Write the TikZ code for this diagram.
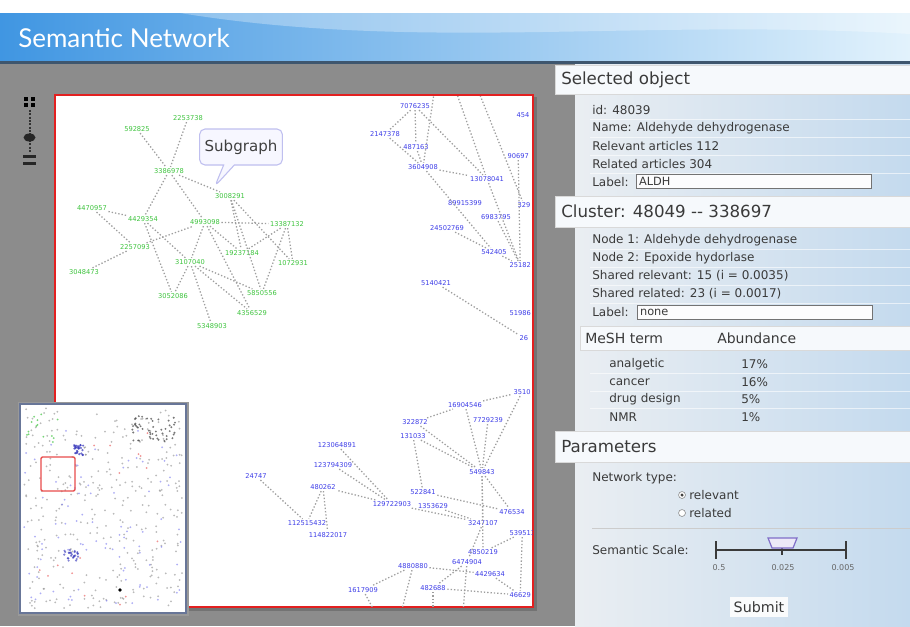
\documentclass[tikz,border=0pt]{standalone}
\usepackage{fontspec}
\setmainfont{DejaVu Sans}
\newfontfamily\titlefont{Lato}
\usetikzlibrary{shapes.callouts}
\definecolor{snblue}{RGB}{62,62,232}
\definecolor{sngreen}{RGB}{62,196,62}
\definecolor{snedge}{RGB}{158,158,158}
\definecolor{snred}{RGB}{226,32,32}
\definecolor{sngray}{RGB}{140,140,140}
\definecolor{hdrleft}{RGB}{64,150,226}
\definecolor{hdrmid}{RGB}{170,214,244}
\definecolor{hdrright}{RGB}{226,242,252}
\definecolor{hdrline}{RGB}{62,86,110}
\definecolor{panelleft}{RGB}{234,238,242}
\definecolor{panelright}{RGB}{196,218,238}
\definecolor{barfill}{RGB}{246,249,252}
\definecolor{txtgray}{RGB}{58,58,58}
\definecolor{mapframe}{RGB}{104,118,152}
\definecolor{thumb}{RGB}{128,110,200}
\tikzset{
  gnode/.style={text=sngreen, font=\fontsize{5}{5}\selectfont, inner sep=1pt},
  bnode/.style={text=snblue, font=\fontsize{5}{5}\selectfont, inner sep=1pt},
  netedge/.style={draw=snedge, line width=0.95pt, dash pattern=on 1pt off 1.5pt},
  secbar/.style={fill=barfill, draw=black!15, line width=0.4pt},
  sectext/.style={anchor=west, text=txtgray, inner sep=0pt, font=\fontsize{12.5}{13}\selectfont},
  ptext/.style={anchor=west, text=txtgray, inner sep=0pt, font=\fontsize{9}{10}\selectfont},
  fieldbox/.style={anchor=west, draw=black!55, fill=white!85!panelleft, line width=0.6pt,
    text width=172pt, align=left, minimum height=11pt, inner sep=2pt, text=txtgray,
    font=\fontsize{8.5}{9}\selectfont},
  tinytext/.style={text=black!60, inner sep=0pt, font=\fontsize{6}{6}\selectfont}
}
\begin{document}
\begin{tikzpicture}[x=0.75pt,y=-0.75pt]
  \useasboundingbox (0,0) rectangle (910,626);
  \fill[white] (0,0) rectangle (910,626);
  \shade[left color=hdrleft, middle color=hdrmid, right color=hdrright] (0,13) rectangle (910,61);
  \fill[white, opacity=.3] (180,13) .. controls (420,52) and (640,18) .. (910,34) -- (910,13) -- cycle;
  \fill[hdrline] (0,61) rectangle (910,64);
  \node[anchor=west, text=white, inner sep=0pt, font=\titlefont\fontsize{19.5}{20}\selectfont] (title) at (18,38) {Semantic Network};
  \fill[sngray] (0,64) rectangle (575,626);
  \shade[left color=panelleft, right color=panelright] (575,64) rectangle (910,626);

  \fill[black] (24,97) rectangle (28,101);
  \fill[black] (31,97) rectangle (35,101);
  \fill[black] (24,103) rectangle (28,107);
  \fill[black] (31,103) rectangle (35,107);
  \draw[black!80, line width=1.5pt, dash pattern=on 1.5pt off 1pt] (29.5,110) -- (29.5,153);
  \fill[black!85] (29.5,137.5) ellipse (4.5pt and 3pt);
  \fill[black!85] (23,155) rectangle (36,158);
  \fill[black!85] (23,162) rectangle (36,165);

  \fill[black!55] (57,97) rectangle (537,611);
  \draw[snred, line width=2pt, fill=white] (55,95) rectangle (533,607);

  \begin{scope}
    \clip (56,96) rectangle (532,606);
    \node[gnode] (g2253738) at (188,118) {2253738};
    \node[gnode] (g592825) at (137,129) {592825};
    \node[gnode] (g3386978) at (169,171) {3386978};
    \node[gnode] (g3008291) at (230,196) {3008291};
    \node[gnode] (g4470957) at (92,208) {4470957};
    \node[gnode] (g4429354) at (143,219) {4429354};
    \node[gnode] (g4993098) at (205,222) {4993098};
    \node[gnode] (g13387132) at (287,224) {13387132};
    \node[gnode] (g2257093) at (135,247) {2257093};
    \node[gnode] (g19237184) at (242,253) {19237184};
    \node[gnode] (g3107040) at (190,262) {3107040};
    \node[gnode] (g1072931) at (293,263) {1072931};
    \node[gnode] (g3048473) at (84,272) {3048473};
    \node[gnode] (g3052086) at (173,296) {3052086};
    \node[gnode] (g5850556) at (262,293) {5850556};
    \node[gnode] (g4356529) at (252,313) {4356529};
    \node[gnode] (g5348903) at (212,326) {5348903};
    \draw[netedge] (g592825) -- (g3386978);
    \draw[netedge] (g2253738) -- (g3386978);
    \draw[netedge] (g3386978) -- (g3008291);
    \draw[netedge] (g3386978) -- (g4429354);
    \draw[netedge] (g3386978) -- (g4993098);
    \draw[netedge] (g4470957) -- (g4429354);
    \draw[netedge] (g4470957) -- (g2257093);
    \draw[netedge] (g4429354) -- (g3052086);
    \draw[netedge] (g4429354) -- (g3107040);
    \draw[netedge] (g2257093) -- (g4993098);
    \draw[netedge] (g2257093) -- (g3048473);
    \draw[netedge] (g4993098) -- (g13387132);
    \draw[netedge] (g4993098) -- (g19237184);
    \draw[netedge] (g4993098) -- (g3107040);
    \draw[netedge] (g4993098) -- (g4356529);
    \draw[netedge] (g3008291) -- (g19237184);
    \draw[netedge] (g3008291) -- (g5850556);
    \draw[netedge] (g3008291) -- (g1072931);
    \draw[netedge] (g13387132) -- (g19237184);
    \draw[netedge] (g13387132) -- (g1072931);
    \draw[netedge] (g13387132) -- (g5850556);
    \draw[netedge] (g3107040) -- (g5850556);
    \draw[netedge] (g3107040) -- (g3052086);
    \draw[netedge] (g3107040) -- (g5348903);
    \draw[netedge] (g3107040) -- (g4356529);

    \coordinate (ct1) at (436,80);
    \coordinate (ct2) at (452,80);
    \coordinate (ct3) at (474,80);
    \node[bnode] (b7076235) at (415,106) {7076235};
    \node[bnode] (b2147378) at (385,134) {2147378};
    \node[bnode] (b487163) at (416,147) {487163};
    \node[bnode] (b3604908) at (423,167) {3604908};
    \node[bnode] (b13078041) at (487,179) {13078041};
    \node[bnode] (b89915399) at (465,203) {89915399};
    \node[bnode] (b6983795) at (496,217) {6983795};
    \node[bnode] (b24502769) at (447,228) {24502769};
    \node[bnode] (b542405) at (494,252) {542405};
    \node[bnode, anchor=west] (b25182) at (508,265) {25182};
    \node[bnode] (b5140421) at (436,283) {5140421};
    \node[bnode, anchor=west] (b51986) at (508,313) {51986};
    \node[bnode, anchor=west] (b26) at (518,338) {26};
    \node[bnode, anchor=west] (b454) at (515,115) {454};
    \node[bnode, anchor=west] (b90697) at (506,156) {90697};
    \node[bnode, anchor=west] (b329) at (516,205) {329};
    \draw[netedge] (b7076235) -- (b2147378);
    \draw[netedge] (b7076235) -- (b487163);
    \draw[netedge] (b7076235) -- (b13078041);
    \draw[netedge] (b2147378) -- (b3604908);
    \draw[netedge] (b487163) -- (b3604908);
    \draw[netedge] (b3604908) -- (b13078041);
    \draw[netedge] (b3604908) -- (b542405);
    \draw[netedge] (b13078041) -- (b25182);
    \draw[netedge] (b6983795) -- (b25182);
    \draw[netedge] (b24502769) -- (b542405);
    \draw[netedge] (b542405) -- (b25182);
    \draw[netedge] (b90697) -- (b25182);
    \draw[netedge] (b5140421) -- (b26);
    \draw[netedge] (ct1) -- (b3604908);
    \draw[netedge] (ct2) -- (b13078041);
    \draw[netedge] (ct3) -- (b329);

    \coordinate (cb1) at (382,625);
    \coordinate (cb2) at (398,625);
    \coordinate (cb3) at (433,625);
    \coordinate (cb4) at (462,625);
    \node[bnode, anchor=west] (b3510) at (512,392) {3510};
    \node[bnode] (b16904546) at (465,405) {16904546};
    \node[bnode] (b322872) at (415,422) {322872};
    \node[bnode] (b7729239) at (488,420) {7729239};
    \node[bnode] (b131033) at (413,436) {131033};
    \node[bnode] (b123064891) at (337,445) {123064891};
    \node[bnode] (b123794309) at (333,465) {123794309};
    \node[bnode] (b24747) at (256,476) {24747};
    \node[bnode] (b549843) at (482,472) {549843};
    \node[bnode] (b480262) at (323,487) {480262};
    \node[bnode] (b522841) at (423,492) {522841};
    \node[bnode] (b129722903) at (392,504) {129722903};
    \node[bnode] (b1353629) at (433,506) {1353629};
    \node[bnode] (b476534) at (512,512) {476534};
    \node[bnode] (b3247107) at (483,523) {3247107};
    \node[bnode] (b112515432) at (307,523) {112515432};
    \node[bnode] (b114822017) at (328,535) {114822017};
    \node[bnode, anchor=west] (b539513) at (508,533) {539513};
    \node[bnode] (b4850219) at (483,552) {4850219};
    \node[bnode] (b6474904) at (467,562) {6474904};
    \node[bnode] (b4880880) at (413,566) {4880880};
    \node[bnode] (b4429634) at (490,574) {4429634};
    \node[bnode] (b1617909) at (363,590) {1617909};
    \node[bnode] (b482688) at (433,588) {482688};
    \node[bnode, anchor=west] (b46629) at (508,595) {46629};
    \draw[netedge] (b322872) -- (b16904546);
    \draw[netedge] (b16904546) -- (b3510);
    \draw[netedge] (b322872) -- (b549843);
    \draw[netedge] (b131033) -- (b549843);
    \draw[netedge] (b131033) -- (b522841);
    \draw[netedge] (b16904546) -- (b549843);
    \draw[netedge] (b7729239) -- (b549843);
    \draw[netedge] (b3510) -- (b549843);
    \draw[netedge] (b549843) -- (b476534);
    \draw[netedge] (b549843) -- (b3247107);
    \draw[netedge] (b549843) -- (b4850219);
    \draw[netedge] (b522841) -- (b476534);
    \draw[netedge] (b1353629) -- (b3247107);
    \draw[netedge] (b129722903) -- (b3247107);
    \draw[netedge] (b129722903) -- (b480262);
    \draw[netedge] (b123064891) -- (b129722903);
    \draw[netedge] (b123794309) -- (b129722903);
    \draw[netedge] (b480262) -- (b112515432);
    \draw[netedge] (b480262) -- (b114822017);
    \draw[netedge] (b24747) -- (b112515432);
    \draw[netedge] (b3247107) -- (b6474904);
    \draw[netedge] (b539513) -- (b4850219);
    \draw[netedge] (b539513) -- (b46629);
    \draw[netedge] (b6474904) -- (b482688);
    \draw[netedge] (b482688) -- (b46629);
    \draw[netedge] (b4880880) -- (b4429634);
    \draw[netedge] (b4880880) -- (b1617909);
    \draw[netedge] (b4429634) -- (b46629);
    \draw[netedge] (b4880880) -- (cb2);
    \draw[netedge] (b1617909) -- (cb1);
    \draw[netedge] (b482688) -- (cb3);
    \draw[netedge] (b6474904) -- (cb4);
  \end{scope}

  \coordinate (subtip) at (215,186);
  \node[rectangle callout, callout absolute pointer={(subtip)}, callout pointer width=8pt,
    rounded corners=4pt, draw=black!25!blue!25, fill=blue!3, line width=0.8pt,
    minimum width=62pt, minimum height=27pt, text=black!75,
    font=\fontsize{11.3}{12}\selectfont] (subgraph) at (241,147) {Subgraph};

  \fill[black!40] (18,402) rectangle (189,616);
  \fill[white] (20,404) rectangle (186,613);
  \pgfmathsetseed{42}
  \foreach \k in {1,...,330}{\fill[black!45, opacity=.6] ({24+158*rnd},{408+201*rnd}) circle (0.75pt);}
  \foreach \k in {1,...,90}{\fill[snblue!70, opacity=.6] ({24+158*rnd},{430+175*rnd}) circle (0.75pt);}
  \foreach \k in {1,...,14}{\fill[sngreen, opacity=.7] ({26+32*rnd},{412+30*rnd}) circle (0.75pt);}
  \foreach \k in {1,...,16}{\fill[snred!80, opacity=.6] ({30+150*rnd},{420+185*rnd}) circle (0.75pt);}
  \foreach \k in {1,...,26}{\fill[snblue!80!black, opacity=.7] ({79+5*rand},{450+5*rand}) circle (0.9pt);}
  \foreach \k in {1,...,26}{\fill[snblue!80!black, opacity=.6] ({71+7*rand},{555+6*rand}) circle (0.9pt);}
  \foreach \k in {1,...,50}{\fill[black!75, opacity=.7] ({153+22*rand},{428+13*rand}) circle (0.8pt);}
  \fill[black] (120,590) circle (1.4pt);
  \draw[mapframe, line width=1.8pt] (20,404) rectangle (186,613);
  \draw[snred!80, line width=1.1pt, rounded corners=1pt] (41,457) rectangle (75,491);

  \draw[secbar] (555,65) rectangle (911,94);
  \node[sectext] (selhead) at (561,79.5) {Selected object};
  \foreach \yy in {119,137,155,173,249,267,285,303,373,391,408} {\draw[white, opacity=.6, line width=0.5pt] (590,\yy) -- (910,\yy);}
  \node[ptext] (selid) at (592,110) {id: 48039};
  \node[ptext] (selname) at (592,128) {Name: Aldehyde dehydrogenase};
  \node[ptext] (selrel) at (592,146) {Relevant articles 112};
  \node[ptext] (selrld) at (592,164) {Related articles 304};
  \node[ptext] (sellab) at (592,182) {Label:};
  \node[fieldbox] (selbox) at (636,181.5) {ALDH};

  \draw[secbar] (555,196) rectangle (911,227);
  \node[sectext] (clhead) at (561,211.5) {Cluster: 48049 -{}- 338697};
  \node[ptext] (clnode1) at (592,240) {Node 1: Aldehyde dehydrogenase};
  \node[ptext] (clnode2) at (592,258) {Node 2: Epoxide hydorlase};
  \node[ptext] (clshrel) at (592,276) {Shared relevant: 15 (i = 0.0035)};
  \node[ptext] (clshrld) at (592,294) {Shared related: 23 (i = 0.0017)};
  \node[ptext] (cllab) at (592,312) {Label:};
  \node[fieldbox] (clbox) at (637,312.5) {none};

  \draw[secbar] (580,326) rectangle (911,350);
  \node[ptext, font=\fontsize{10.5}{11}\selectfont] (meshhead) at (585,338) {MeSH term};
  \node[ptext, font=\fontsize{10.5}{11}\selectfont] (abunhead) at (717,338) {Abundance};
  \node[ptext] (mesh1) at (609,364) {analgetic};
  \node[ptext] (abun1) at (741,364) {17\%};
  \node[ptext] (mesh2) at (609,382) {cancer};
  \node[ptext] (abun2) at (741,382) {16\%};
  \node[ptext] (mesh3) at (609,399) {drug design};
  \node[ptext] (abun3) at (741,399) {5\%};
  \node[ptext] (mesh4) at (609,417) {NMR};
  \node[ptext] (abun4) at (741,417) {1\%};

  \draw[secbar] (555,431) rectangle (911,462);
  \node[sectext] (parhead) at (561,446.5) {Parameters};
  \node[ptext] (nettype) at (592,478) {Network type:};
  \draw[black!50, fill=white, line width=0.4pt] (682,495) circle (2.6pt);
  \fill[black!75] (682,495) circle (1.3pt);
  \node[ptext] (netrelv) at (689,495) {relevant};
  \draw[black!50, fill=white, line width=0.4pt] (682,513) circle (2.6pt);
  \node[ptext] (netrltd) at (689,513) {related};
  \draw[white!80!black, line width=0.5pt] (592,528) -- (910,528);
  \node[ptext] (semscale) at (592,550) {Semantic Scale:};
  \draw[txtgray, line width=1.4pt] (716,550) -- (846,550);
  \draw[txtgray, line width=1.4pt] (716,541) -- (716,559);
  \draw[txtgray, line width=1.4pt] (846,541) -- (846,559);
  \draw[txtgray, line width=1.2pt] (782,545) -- (782,555);
  \draw[thumb, fill=thumb!15, line width=0.9pt] (768,538) -- (797,538) -- (793,548) -- (772,548) -- cycle;
  \node[tinytext] (sc05) at (719,568) {0.5};
  \node[tinytext] (sc0025) at (783,568) {0.025};
  \node[tinytext] (sc0005) at (843,568) {0.005};
  \node[fill=white!75!panelleft, inner sep=3pt, text=txtgray, font=\fontsize{10.7}{11}\selectfont] (submit) at (759,607) {Submit};
\end{tikzpicture}
\end{document}
